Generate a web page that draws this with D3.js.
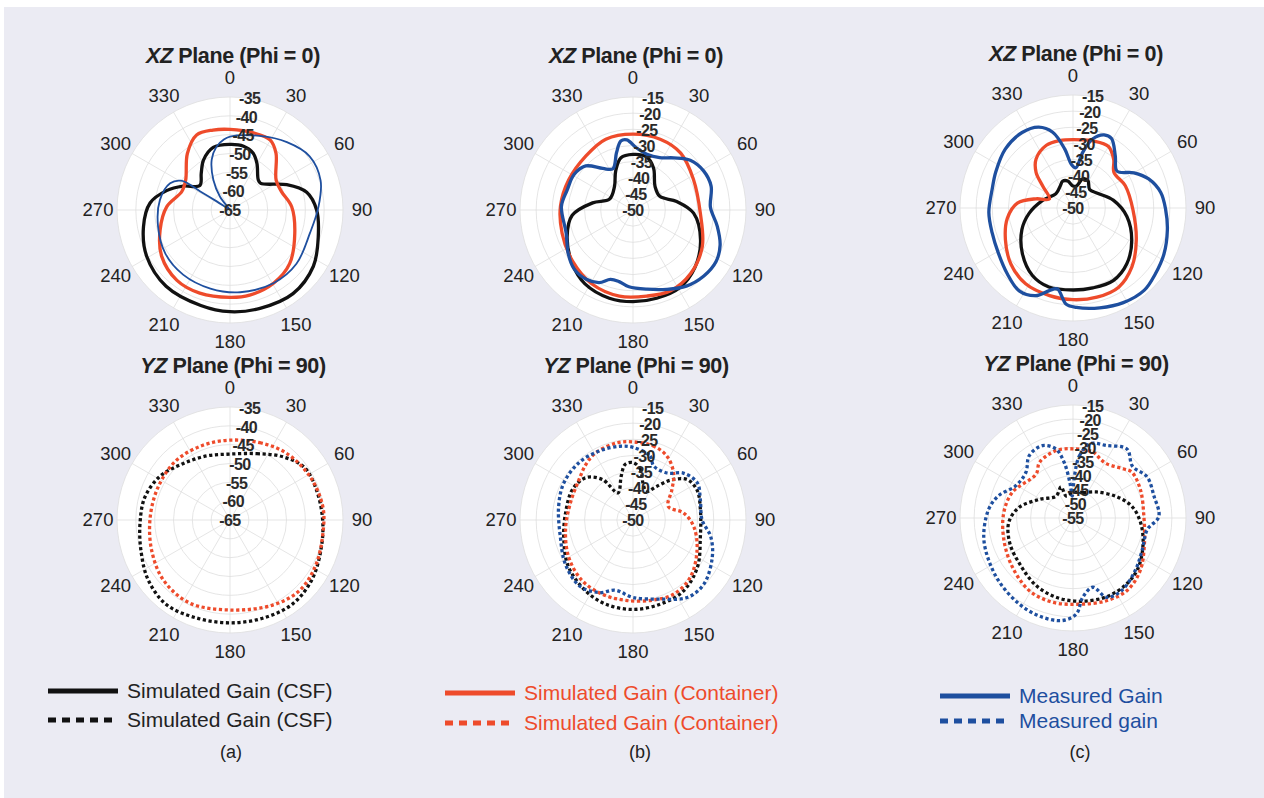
<!DOCTYPE html>
<html>
<head>
<meta charset="utf-8">
<script src="https://cdn.jsdelivr.net/npm/d3@7"></script>
<style>
  body { margin: 0; background: #fff; }
  svg { display: block; font-family: "Liberation Sans", Arial, sans-serif; }
</style>
</head>
<body>
<svg id="chart" width="1264" height="798"></svg>
<script>
// gain patterns, [angle in degrees (clockwise from top), gain in dB]
// (a) top: XZ plane, simulated CSF / container / measured
var xzCsfA = [[0,-47.6],[12,-47.7],[22,-48.7],[30,-50.7],[43,-54.0],[49,-54.2],[66,-48.5],[77,-44.1],[90,-42.0],[107,-40.5],[124,-38.3],[143,-37.2],[163,-37.7],[180,-38.0],[197,-38.5],[220,-38.6],[241,-39.7],[259,-41.6],[275,-43.7],[287,-47.4],[297,-51.0],[309,-54.7],[322,-52.6],[332,-50.0],[345,-47.8]];
var xzContA = [[0,-43.6],[17,-43.6],[30,-43.6],[39,-45.6],[57,-50.4],[70,-50.5],[87,-48.6],[110,-46.7],[132,-43.7],[149,-42.4],[167,-41.8],[180,-41.8],[200,-41.5],[217,-41.6],[236,-43.1],[254,-45.7],[273,-48.2],[291,-51.3],[304,-50.8],[323,-46.2],[336,-43.2],[348,-43.3]];
var xzMeasA = [[0,-45.5],[22,-43.8],[40,-41.5],[56,-39.5],[72,-39.7],[88,-41.5],[106,-42.9],[129,-42.3],[149,-42.4],[173,-43.0],[194,-43.5],[216,-43.8],[236,-44.3],[257,-45.4],[278,-46.2],[294,-47.6],[301,-49.9],[302,-55.7],[303,-60.8],[305,-64.6],[318,-64.8],[323,-60.6],[331,-55.9],[340,-50.8],[348,-47.8],[355,-46.2]];

// (b) top
var xzCsfB = [[0,-32.8],[14,-33.0],[26,-35.5],[43,-40.0],[63,-40.7],[79,-36.2],[93,-31.2],[114,-27.1],[133,-23.8],[149,-21.9],[165,-21.7],[180,-21.6],[195,-21.7],[213,-22.7],[228,-24.8],[248,-28.0],[265,-31.1],[280,-37.3],[295,-42.0],[322,-40.7],[336,-36.8],[347,-33.4]];
var xzContB = [[0,-26.5],[21,-26.5],[40,-27.0],[63,-29.0],[93,-29.1],[118,-25.7],[138,-23.4],[155,-22.4],[171,-23.0],[189,-23.0],[209,-23.8],[230,-25.5],[252,-26.9],[273,-27.5],[295,-28.0],[319,-27.8],[339,-26.5]];
var xzMeasB = [[3,-30.7],[14,-32.2],[27,-31.8],[38,-29.5],[49,-26.5],[61,-25.0],[73,-24.7],[88,-26.0],[101,-23.4],[112,-20.9],[122,-19.7],[133,-20.0],[145,-21.2],[157,-23.3],[170,-25.1],[183,-26.2],[191,-27.4],[198,-27.4],[205,-25.2],[214,-24.1],[225,-24.2],[236,-25.8],[251,-28.1],[273,-27.8],[287,-28.7],[301,-28.7],[313,-30.0],[324,-34.1],[334,-35.8],[344,-31.5],[350,-28.3],[355,-28.2]];

// (c) top
var xzCsfC = [[0,-43.2],[9,-43.1],[19,-40.4],[29,-40.4],[42,-42.3],[60,-41.0],[79,-37.3],[99,-33.1],[119,-29.2],[136,-26.0],[151,-24.3],[166,-24.5],[180,-24.6],[197,-24.4],[211,-25.6],[228,-28.9],[247,-32.8],[263,-36.3],[284,-40.3],[311,-43.1],[330,-42.1],[339,-41.1],[349,-41.5]];
var xzContC = [[0,-28.8],[17,-28.3],[30,-28.0],[40,-30.4],[49,-33.2],[67,-32.4],[92,-31.4],[117,-28.0],[135,-24.2],[150,-21.7],[165,-21.4],[180,-21.6],[195,-21.9],[212,-22.3],[228,-24.1],[245,-26.9],[261,-29.4],[275,-32.7],[284,-38.2],[291,-42.2],[306,-38.4],[314,-34.1],[323,-31.0],[337,-28.9],[349,-28.7]];
var xzMeasC = [[4,-37.5],[10,-32.4],[16,-27.7],[23,-25.4],[29,-25.4],[39,-29.2],[50,-32.2],[60,-28.2],[69,-24.9],[80,-22.4],[91,-21.3],[103,-20.0],[117,-18.4],[129,-17.3],[139,-16.3],[152,-16.8],[165,-18.0],[178,-19.2],[184,-20.1],[191,-24.5],[196,-23.4],[203,-20.5],[213,-19.4],[225,-21.2],[239,-23.0],[253,-23.8],[267,-23.9],[283,-24.3],[295,-23.6],[311,-22.2],[326,-21.8],[337,-22.8],[345,-25.7],[352,-31.5],[358,-36.5]];

// bottom row: YZ plane
var yzCsfA = [[0,-47.5],[22,-46.0],[40,-43.1],[55,-40.8],[71,-40.7],[90,-40.4],[108,-39.6],[126,-38.1],[143,-37.2],[161,-37.5],[180,-37.7],[199,-37.5],[217,-36.9],[234,-38.1],[251,-40.0],[268,-41.1],[285,-41.6],[302,-43.1],[320,-45.5],[340,-46.9]];
var yzContA = [[0,-43.8],[21,-43.0],[40,-41.8],[62,-40.8],[82,-40.1],[96,-40.1],[117,-39.3],[135,-38.7],[153,-39.7],[180,-41.1],[206,-40.5],[228,-41.2],[249,-42.7],[272,-43.8],[295,-44.0],[318,-43.7],[340,-43.9]];

var yzCsfB = [[0,-32.2],[8,-34.0],[15,-38.1],[25,-40.2],[35,-37.3],[43,-33.2],[53,-29.1],[65,-28.1],[82,-28.9],[104,-28.5],[126,-25.3],[145,-23.0],[162,-22.6],[180,-22.3],[198,-22.6],[214,-23.6],[234,-25.3],[254,-27.7],[276,-29.0],[297,-29.0],[312,-30.4],[323,-34.3],[331,-40.4],[345,-35.9],[352,-32.6]];
var yzContB = [[0,-25.8],[15,-26.2],[28,-27.6],[41,-30.8],[52,-34.7],[69,-38.3],[82,-34.2],[96,-31.1],[115,-28.1],[135,-24.9],[151,-23.8],[166,-24.4],[185,-25.0],[202,-25.1],[220,-25.5],[240,-27.0],[262,-28.9],[285,-29.9],[307,-29.1],[320,-27.4],[331,-26.2],[348,-25.6]];
var yzMeasB = [[0,-27.5],[15,-29.5],[21,-32.1],[36,-32.0],[47,-28.7],[60,-27.0],[73,-28.2],[90,-28.6],[102,-25.4],[115,-22.9],[132,-20.4],[145,-20.7],[161,-24.1],[180,-26.0],[194,-27.6],[205,-25.2],[219,-23.7],[237,-25.0],[257,-26.9],[280,-26.6],[298,-25.7],[317,-25.6],[334,-26.2],[350,-26.8]];

var yzCsfC = [[0,-46.0],[22,-45.3],[42,-42.6],[64,-37.8],[79,-33.7],[94,-31.0],[110,-28.6],[127,-26.0],[141,-24.9],[157,-24.7],[175,-25.4],[192,-26.3],[209,-27.8],[228,-30.0],[248,-30.9],[266,-32.2],[281,-35.5],[299,-41.4],[322,-45.2],[339,-43.2],[343,-46.9]];
var yzContC = [[0,-30.5],[17,-30.6],[25,-32.0],[32,-32.4],[46,-30.0],[52,-28.6],[67,-29.1],[89,-29.9],[110,-28.1],[128,-24.8],[143,-23.0],[158,-23.4],[176,-24.4],[194,-24.3],[211,-25.0],[231,-27.4],[252,-29.3],[274,-30.4],[293,-31.7],[320,-34.7],[329,-32.0],[346,-30.4]];
var yzMeasC = [[2,-40.1],[6,-32.8],[13,-28.0],[25,-26.7],[38,-24.0],[49,-27.1],[61,-25.0],[75,-25.3],[89,-24.6],[99,-28.4],[115,-28.0],[130,-26.2],[146,-24.1],[157,-24.5],[164,-29.5],[173,-26.7],[178,-21.0],[186,-18.5],[199,-18.3],[212,-19.1],[228,-20.4],[243,-21.6],[258,-22.7],[276,-25.0],[287,-27.6],[299,-31.7],[314,-31.8],[325,-28.0],[337,-27.2],[346,-29.8],[351,-35.1],[355,-42.5],[358,-47.2]];

var angleTicks = [0, 30, 60, 90, 120, 150, 180, 210, 240, 270, 300, 330];
var legendLabels = ["Simulated Gain (CSF)", "Simulated Gain (Container)", "Measured Gain", "Measured gain"];
var panelLabels = ["(a)", "(b)", "(c)"];

var BLACK = "#111111", RED = "#ee4b2b", BLUE = "#1e4f9f";
var R = 113;

var panels = [
  {cx: 230,  cy: 210, plane: "XZ", phi: 0,  rMin: -65, rMax: -35, series: [
    {data: xzCsfA, color: BLACK, w: 3.3}, {data: xzContA, color: RED, w: 3.3}, {data: xzMeasA, color: BLUE, w: 1.8}]},
  {cx: 633,  cy: 210, plane: "XZ", phi: 0,  rMin: -50, rMax: -15, series: [
    {data: xzCsfB, color: BLACK, w: 3.3}, {data: xzContB, color: RED, w: 3.3}, {data: xzMeasB, color: BLUE, w: 3.3}]},
  {cx: 1073, cy: 208, plane: "XZ", phi: 0,  rMin: -50, rMax: -15, series: [
    {data: xzCsfC, color: BLACK, w: 3.3}, {data: xzContC, color: RED, w: 3.3}, {data: xzMeasC, color: BLUE, w: 3.3}]},
  {cx: 230,  cy: 520, plane: "YZ", phi: 90, rMin: -65, rMax: -35, series: [
    {data: yzCsfA, color: BLACK, w: 3.3, dash: true}, {data: yzContA, color: RED, w: 3.3, dash: true}]},
  {cx: 633,  cy: 520, plane: "YZ", phi: 90, rMin: -50, rMax: -15, series: [
    {data: yzCsfB, color: BLACK, w: 3.3, dash: true}, {data: yzContB, color: RED, w: 3.3, dash: true}, {data: yzMeasB, color: BLUE, w: 3.3, dash: true}]},
  {cx: 1073, cy: 518, plane: "YZ", phi: 90, rMin: -55, rMax: -15, series: [
    {data: yzCsfC, color: BLACK, w: 3.3, dash: true}, {data: yzContC, color: RED, w: 3.3, dash: true}, {data: yzMeasC, color: BLUE, w: 3.3, dash: true}]}
];

var svg = d3.select("#chart");

svg.append("rect")
    .attr("x", 4).attr("y", 7)
    .attr("width", 1260).attr("height", 791)
    .attr("fill", "#ebebf3");

var rad = Math.PI / 180;

panels.forEach(function(p) {
  var r = d3.scaleLinear().domain([p.rMin, p.rMax]).range([0, R]).clamp(true);
  var ticks = d3.range(p.rMin, p.rMax + 0.1, 5);

  var g = svg.append("g").attr("transform", "translate(" + p.cx + "," + p.cy + ")");

  g.append("circle").attr("r", R).attr("fill", "#fff");

  g.selectAll(".ring")
      .data(ticks.slice(1))
      .enter().append("circle")
      .attr("class", "ring")
      .attr("r", function(d) { return r(d); })
      .attr("fill", "none")
      .attr("stroke", "#dedede")
      .attr("stroke-width", 0.8);

  g.selectAll(".spoke")
      .data(angleTicks)
      .enter().append("line")
      .attr("class", "spoke")
      .attr("x2", function(d) { return R * Math.sin(d * rad); })
      .attr("y2", function(d) { return -R * Math.cos(d * rad); })
      .attr("stroke", "#dedede")
      .attr("stroke-width", 0.8);

  var line = d3.lineRadial()
      .angle(function(d) { return d[0] * rad; })
      .radius(function(d) { return r(d[1]); })
      .curve(d3.curveCatmullRomClosed.alpha(0.5));

  p.series.forEach(function(s) {
    g.append("path")
        .datum(s.data)
        .attr("d", line)
        .attr("fill", "none")
        .attr("stroke", s.color)
        .attr("stroke-width", s.w)
        .attr("stroke-linejoin", "round")
        .attr("stroke-dasharray", s.dash ? "3.2 2.6" : null);
  });

  // radial tick labels along 10 degrees
  g.selectAll(".rlab")
      .data(ticks)
      .enter().append("text")
      .attr("class", "rlab")
      .attr("x", function(d) { return r(d) * Math.sin(10 * rad); })
      .attr("y", function(d) { return -r(d) * Math.cos(10 * rad); })
      .attr("dy", "0.35em")
      .attr("text-anchor", "middle")
      .attr("font-size", 16)
      .attr("font-weight", "bold")
      .attr("letter-spacing", -0.6)
      .attr("fill", "#2a2a2a")
      .text(function(d) { return d; });

  g.selectAll(".alab")
      .data(angleTicks)
      .enter().append("text")
      .attr("class", "alab")
      .attr("x", function(d) { return 132 * Math.sin(d * rad); })
      .attr("y", function(d) { return -132 * Math.cos(d * rad); })
      .attr("dy", "0.35em")
      .attr("text-anchor", "middle")
      .attr("font-size", 18.5)
      .attr("fill", "#222")
      .text(function(d) { return d; });

  var title = g.append("text")
      .attr("x", 3)
      .attr("y", -147)
      .attr("text-anchor", "middle")
      .attr("font-size", 21.5)
      .attr("font-weight", "bold")
      .attr("letter-spacing", -0.4)
      .attr("fill", "#222");
  title.append("tspan").attr("font-style", "italic").text(p.plane);
  title.append("tspan").text(" Plane (Phi = " + p.phi + ")");
});

// legends
var legends = [
  {x: 48,  y: 691, color: BLACK, label: legendLabels[0], dash: false},
  {x: 48,  y: 720, color: BLACK, label: legendLabels[0], dash: true},
  {x: 445, y: 693, color: RED,   label: legendLabels[1], dash: false},
  {x: 445, y: 723, color: RED,   label: legendLabels[1], dash: true},
  {x: 940, y: 696, color: BLUE,  label: legendLabels[2], dash: false},
  {x: 940, y: 721, color: BLUE,  label: legendLabels[3], dash: true}
];

var lg = svg.selectAll(".legend")
    .data(legends)
    .enter().append("g")
    .attr("class", "legend")
    .attr("transform", function(d) { return "translate(" + d.x + "," + d.y + ")"; });

lg.append("line")
    .attr("x2", 70)
    .attr("stroke", function(d) { return d.color; })
    .attr("stroke-width", 5)
    .attr("stroke-dasharray", function(d) { return d.dash ? "8 6" : null; });

lg.append("text")
    .attr("x", 79)
    .attr("dy", "0.35em")
    .attr("font-size", 21)
    .attr("fill", function(d) { return d.color === BLACK ? "#222" : d.color; })
    .text(function(d) { return d.label; });

svg.selectAll(".plab")
    .data(panelLabels)
    .enter().append("text")
    .attr("class", "plab")
    .attr("x", function(d, i) { return [231, 640, 1080][i]; })
    .attr("y", 752)
    .attr("dy", "0.35em")
    .attr("text-anchor", "middle")
    .attr("font-size", 18)
    .attr("fill", "#222")
    .text(function(d) { return d; });
</script>
</body>
</html>
